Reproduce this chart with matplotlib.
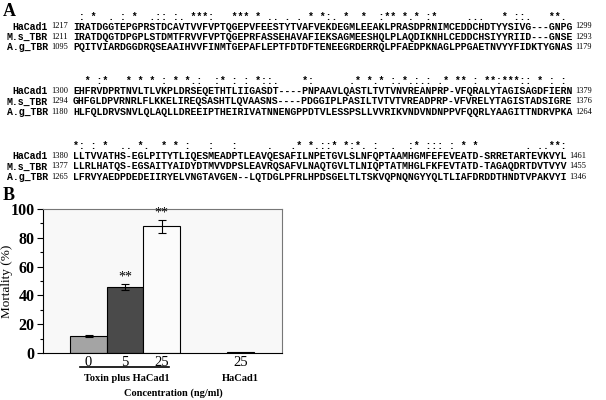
import matplotlib
matplotlib.use("Agg")
import matplotlib.pyplot as plt
from matplotlib.transforms import blended_transform_factory

# ---- panel A: alignment ----
names = ["HaCad1", "M.s_TBR", "A.g_TBR"]

block_starts = [[1217, 1211, 1095], [1300, 1294, 1180], [1380, 1377, 1265]]
block_ends = [[1299, 1293, 1179], [1379, 1376, 1264], [1461, 1455, 1346]]

block_seqs = [
    [
        "IRATDGGTEPGPRSTDCAVTVVFVPTQGEPVFEESTYTVAFVEKDEGMLEEAKLPRASDPRNIMCEDDCHDTYYSIVG---GNPG",
        "IRATDQGTDPGPLSTDMTFRVVFVPTQGEPRFASSEHAVAFIEKSAGMEESHQLPLAQDIKNHLCEDDCHSIYYRIID---GNSE",
        "PQITVIARDGGDRQSEAAIHVVFINMTGEPAFLEPTFDTDFTENEEGRDERRQLPFAEDPKNAGLPPGAETNVYYFIDKTYGNAS",
    ],
    [
        "EHFRVDPRTNVLTLVKPLDRSEQETHTLIIGASDT----PNPAAVLQASTLTVTVNVREANPRP-VFQRALYTAGISAGDFIERN",
        "GHFGLDPVRNRLFLKKELIREQSASHTLQVAASNS----PDGGIPLPASILTVTVTVREADPRP-VFVRELYTAGISTADSIGRE",
        "HLFQLDRVSNVLQLAQLLDREEIPTHEIRIVATNNENGPPDTVLESSPSLLVVRIKVNDVNDNPPVFQQRLYAAGITTNDRVPKA",
    ],
    [
        "LLTVVATHS-EGLPITYTLIQESMEADPTLEAVQESAFILNPETGVLSLNFQPTAAMHGMFEFEVEATD-SRRETARTEVKVYL",
        "LLRLHATQS-EGSAITYAIDYDTMVVDPSLEAVRQSAFVLNAQTGVLTLNIQPTATMHGLFKFEVTATD-TAGAQDRTDVTVYV",
        "LFRVYAEDPDEDEIIRYELVNGTAVGEN--LQTDGLPFRLHPDSGELTLTSKVQPNQNGYYQLTLIAFDRDDTHNDTVPAKVYI",
    ],
]

block_cons = [
    " : *  . : *  .:: :. ***:   *** * .. . . * *:. *  *  :** *.* :*     ...   * ::.   **. ",
    "  * :*   * * * : * *.:  :* : : *::.    *:      .* *.* :.*.:.: .* ** : **:***:: * : : ",
    "*: : *  .. *.  * * :   :   :     .   .* *.::* *:*. :  .  :* ::: : * *        . ..**:",
]

# ---- panel B: mortality bars ----
groups = ["0", "5", "25", "25"]
mortality = [12, 46, 88, 1]
mortality_err = [0.8, 2.0, 4.5, 0]
bar_colors = ["#a4a4a4", "#4a4a4a", "#fbfbfb", "#111111"]
stars = ["", "**", "**", ""]

W, H = 606, 400
fig = plt.figure(figsize=(W / 100, H / 100), dpi=100)

mono = "Liberation Mono"
serif = "Liberation Serif"
seq_size = 7.1
num_size = 6
seq_x = 73


def put(px, py, s, **kw):
    return fig.text(px / W, 1 - py / H, s, **kw)


put(3, 11, "A", fontsize=13, fontweight="bold", family=serif, va="center")
put(3, 196, "B", fontsize=13, fontweight="bold", family=serif, va="center")

row_gap = 10.4
block_y = [26.5, 91, 156]
seq_texts = []
for b in range(3):
    y0 = block_y[b]
    put(seq_x, y0 - 10, block_cons[b], family=mono, fontsize=seq_size,
        fontweight="bold", va="center", ha="left")
    for r in range(3):
        y = y0 + r * row_gap
        put(48, y, names[r], family=mono, fontsize=seq_size, fontweight="bold",
            va="center", ha="right")
        put(51, y, str(block_starts[b][r]), family=serif, fontsize=num_size,
            va="center", ha="left")
        t = put(seq_x, y, block_seqs[b][r], family=mono, fontsize=seq_size,
                fontweight="bold", va="center", ha="left")
        seq_texts.append((t, y, block_ends[b][r]))

# numbers at the right end of each row, placed after the drawn sequence
fig.canvas.draw()
renderer = fig.canvas.get_renderer()
for t, y, end in seq_texts:
    x1 = t.get_window_extent(renderer).x1
    put(x1 + 3, y, str(end), family=serif, fontsize=num_size, va="center",
        ha="left")

# bar chart
ax = fig.add_axes([43 / W, 1 - 353 / H, (282 - 43) / W, (353 - 209) / H])
ax.set_facecolor("#f8f8f8")
xpos = [0, 1, 2, 4.16]
widths = [1, 1, 1, 0.74]
ax.bar(xpos, mortality, width=widths, color=bar_colors, edgecolor="black",
       linewidth=0.8, zorder=2)
for i in range(3):
    ax.errorbar(xpos[i], mortality[i], yerr=mortality_err[i], color="black",
                capsize=3, elinewidth=0.8, capthick=0.8, zorder=3)
for i in range(4):
    if stars[i]:
        ax.text(xpos[i], mortality[i] + mortality_err[i] + 0.5, stars[i],
                ha="center", va="bottom", family=serif, fontsize=10)

ax.set_xlim(-1.25, 5.3)
ax.set_ylim(0, 100)
ax.set_yticks(range(0, 101, 20))
ax.set_yticks(range(10, 100, 20), minor=True)
ax.set_yticklabels([str(v) for v in range(0, 101, 20)], family=serif,
                   fontweight="bold", fontsize=11.5)
ax.tick_params(axis="y", which="major", length=4, width=0.8, direction="out",
               pad=2)
ax.tick_params(axis="y", which="minor", length=2.5, width=0.8, direction="out")
ax.set_xticks(xpos)
ax.set_xticklabels(groups, family=serif, fontsize=10.5)
ax.tick_params(axis="x", length=0, pad=2)
for side in ["top", "right"]:
    ax.spines[side].set_color("#777777")
    ax.spines[side].set_linewidth(0.8)
for side in ["left", "bottom"]:
    ax.spines[side].set_linewidth(0.8)
ax.set_ylabel("Mortality (%)", family=serif, fontsize=9.5)
ax.yaxis.set_label_coords(-0.125, 0.5)

tr = blended_transform_factory(ax.transData, ax.transAxes)
ax.plot([-0.24, 2.2], [-0.097, -0.097], color="black", lw=1.2, transform=tr,
        clip_on=False)
ax.text(1.05, -0.175, "Toxin plus HaCad1", transform=tr, ha="center",
        va="center", family=serif, fontweight="bold", fontsize=7.5)
ax.text(4.16, -0.175, "HaCad1", transform=tr, ha="center", va="center",
        family=serif, fontweight="bold", fontsize=7.5)
ax.text(2.31, -0.28, "Concentration (ng/ml)", transform=tr, ha="center",
        va="center", family=serif, fontweight="bold", fontsize=7.5)

fig.savefig("out.png", dpi=100)
